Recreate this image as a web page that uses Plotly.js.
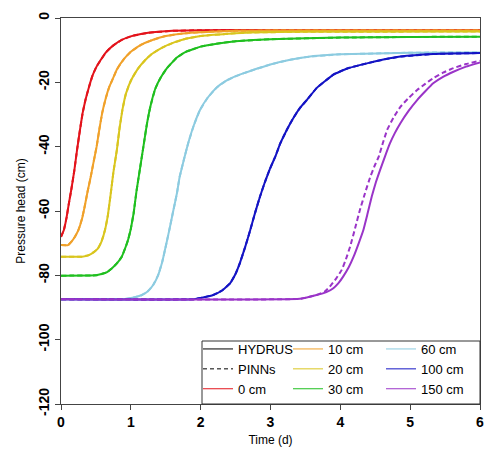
<!DOCTYPE html>
<html>
<head>
<meta charset="utf-8">
<script src="https://cdn.plot.ly/plotly-3.0.1.min.js"></script>
<style>html,body{margin:0;padding:0;background:#fff;}#chart{width:485px;height:452px;}</style>
</head>
<body>
<div id="chart"></div>
<script>
// ---- data ----
const depths = ["0 cm", "10 cm", "20 cm", "30 cm", "60 cm", "100 cm", "150 cm"];
const colors = ["#e3131b", "#f0a12a", "#d9c51e", "#1fbf1f", "#8ccbe0", "#1414c4", "#9a34c8"];

const t_0cm = [0, 0.04, 0.08, 0.11, 0.15, 0.19, 0.23, 0.27, 0.31, 0.35, 0.40, 0.45, 0.50, 0.57, 0.65, 0.75, 0.87, 1.0, 1.25, 1.6, 2, 3, 4, 5, 6];
const h_0cm = [-68, -66, -62, -58, -53, -47.5, -41, -35, -29.5, -25.5, -21.5, -18, -15.5, -13, -10.5, -8.5, -6.8, -5.7, -4.6, -4.0, -3.8, -3.7, -3.7, -3.7, -3.7];

const t_10cm = [0, 0.1, 0.15, 0.2, 0.25, 0.3, 0.34, 0.38, 0.42, 0.46, 0.51, 0.55, 0.59, 0.64, 0.69, 0.74, 0.8, 0.9, 1.0, 1.15, 1.3, 1.5, 1.75, 2, 2.5, 3, 4, 6];
const h_10cm = [-70.6, -70.6, -69.5, -68, -65.9, -62.5, -58.5, -54, -50, -45.5, -40, -34.5, -29.5, -25, -21.5, -19, -16, -12.8, -10.5, -8.3, -6.9, -5.6, -4.8, -4.4, -4.0, -3.9, -3.9, -3.9];

const t_20cm = [0, 0.3, 0.4, 0.47, 0.53, 0.58, 0.63, 0.67, 0.71, 0.75, 0.8, 0.84, 0.88, 0.93, 1.0, 1.1, 1.2, 1.3, 1.45, 1.63, 1.8, 2.0, 2.4, 2.7, 3.5, 6];
const h_20cm = [-74.2, -74.2, -73.7, -72.8, -71.6, -69.5, -65.9, -61.5, -55, -48, -41, -34, -28.5, -23.5, -19.5, -15.8, -13.2, -11.2, -9.2, -7.5, -6.4, -5.6, -4.9, -4.5, -4.3, -4.2];

const t_30cm = [0, 0.5, 0.58, 0.66, 0.73, 0.8, 0.87, 0.92, 0.96, 1.0, 1.04, 1.08, 1.13, 1.18, 1.23, 1.28, 1.35, 1.42, 1.52, 1.66, 1.8, 2.0, 2.25, 2.5, 3, 4, 5, 6];
const h_30cm = [-80.1, -80, -79.6, -79, -77.8, -76.3, -74.2, -71.5, -69, -65.5, -60.7, -54, -47, -40, -33, -27.5, -22, -18.8, -15.5, -12.3, -10.4, -8.9, -7.9, -7.2, -6.6, -6.1, -5.9, -5.8];

const t_60cm = [0, 0.9, 1.04, 1.15, 1.24, 1.32, 1.39, 1.45, 1.51, 1.56, 1.61, 1.66, 1.70, 1.76, 1.82, 1.9, 1.99, 2.1, 2.23, 2.35, 2.47, 2.6, 2.8, 3.04, 3.3, 3.52, 4.0, 5, 6];
const h_60cm = [-87.4, -87.4, -86.9, -86.2, -85.0, -83.0, -80.0, -75.8, -70, -65, -59.7, -54.5, -49.3, -44, -39, -33.5, -28.6, -24.8, -21.6, -19.7, -18.4, -17.3, -15.8, -14.2, -12.9, -12.1, -11.3, -10.8, -10.7];

const t_100cm = [0, 1.9, 2.05, 2.18, 2.3, 2.42, 2.5, 2.56, 2.64, 2.71, 2.78, 2.85, 2.92, 2.99, 3.07, 3.14, 3.24, 3.33, 3.42, 3.52, 3.66, 3.8, 3.9, 4.1, 4.38, 4.6, 4.86, 5.33, 6];
const h_100cm = [-87.4, -87.4, -86.8, -86.1, -84.8, -82.5, -79.5, -76.3, -71, -65.9, -60.5, -55.5, -51, -47, -43, -39, -34.5, -31, -28, -25.5, -21.8, -19.3, -17.6, -15.7, -14.1, -13, -12, -11.2, -10.9];

const t_150cm = [0, 3.42, 3.66, 3.8, 3.9, 3.97, 4.04, 4.12, 4.19, 4.26, 4.33, 4.39, 4.45, 4.51, 4.57, 4.64, 4.71, 4.78, 4.86, 4.98, 5.10, 5.22, 5.33, 5.47, 5.62, 5.8, 6];
const h_150cm = [-87.4, -87.3, -86.1, -85.2, -84, -82.5, -80.4, -77.5, -74.2, -70.2, -65.9, -60.8, -55.5, -51, -47.2, -43, -39, -35.8, -32.7, -28.8, -25.5, -22.7, -20.3, -18.3, -16.7, -15.1, -13.8];

// PINNs predictions (coincide with HYDRUS except at 150 cm)
const tp_150cm = [0, 3.42, 3.66, 3.78, 3.85, 3.94, 4.02, 4.08, 4.14, 4.21, 4.28, 4.36, 4.43, 4.49, 4.55, 4.61, 4.67, 4.76, 4.86, 4.98, 5.10, 5.22, 5.33, 5.47, 5.62, 5.8, 6];
const hp_150cm = [-87.4, -87.3, -86.1, -85, -83.5, -81, -78.3, -75, -71.1, -65.5, -59.7, -54, -49.3, -46, -43.1, -38.8, -34.8, -31, -27.6, -24.8, -22.4, -20.4, -18.7, -17, -15.6, -14.3, -13.3];

const hydrusT = [t_0cm, t_10cm, t_20cm, t_30cm, t_60cm, t_100cm, t_150cm];
const hydrusH = [h_0cm, h_10cm, h_20cm, h_30cm, h_60cm, h_100cm, h_150cm];
const pinnsT = [t_0cm, t_10cm, t_20cm, t_30cm, t_60cm, t_100cm, tp_150cm];
const pinnsH = [h_0cm, h_10cm, h_20cm, h_30cm, h_60cm, h_100cm, hp_150cm];

const xTicks = [0, 1, 2, 3, 4, 5, 6];
const yTicks = [0, -20, -40, -60, -80, -100, -120];

// legend columns
const legendCols = [["HYDRUS", "PINNs", "0 cm"], ["10 cm", "20 cm", "30 cm"], ["60 cm", "100 cm", "150 cm"]];
const legendIds = ["legend", "legend2", "legend3"];

const traces = [];
for (let i = 0; i < depths.length; i++) {
  traces.push({x: hydrusT[i], y: hydrusH[i], mode: "lines", name: depths[i] + " HYDRUS", showlegend: false,
    line: {color: colors[i], width: 2, shape: "spline", smoothing: 0.3}, hoverinfo: "skip"});
  traces.push({x: pinnsT[i], y: pinnsH[i], mode: "lines", name: depths[i] + " PINNs", showlegend: false,
    line: {color: colors[i], width: 2, dash: "5px,3px", shape: "spline", smoothing: 0.3}, hoverinfo: "skip"});
}
// legend-only entries
legendCols.forEach((col, c) => {
  col.forEach((name) => {
    let color = "#000", dash = "solid";
    const di = depths.indexOf(name);
    if (di >= 0) color = colors[di];
    if (name === "PINNs") dash = "4px,3px";
    traces.push({x: [null], y: [null], mode: "lines", name: name, legend: legendIds[c],
      line: {color: color, width: 1, dash: dash}, showlegend: true, hoverinfo: "skip"});
  });
});

const fontFam = "Liberation Sans, Arial, sans-serif";
const pw = 419, ph = 386;
function px2x(px) { return (px - 61) / pw; }
function py2y(py) { return (404 - py) / ph; }

const legendBase = {
  orientation: "v", y: 0, yanchor: "bottom", xanchor: "left",
  bgcolor: "rgba(0,0,0,0)", borderwidth: 0,
  font: {family: fontFam, size: 13, color: "#000"},
  itemwidth: 30, tracegroupgap: 0
};

const layout = {
  width: 485, height: 452,
  margin: {l: 61, r: 5, t: 18, b: 48},
  paper_bgcolor: "#fff", plot_bgcolor: "#fff",
  font: {family: fontFam, color: "#000", size: 12},
  showlegend: true,
  xaxis: {
    range: [0, 6], tickvals: xTicks, ticktext: xTicks.map(String),
    showgrid: false, zeroline: false, showline: true, mirror: true, linecolor: "#444", linewidth: 1,
    ticks: "outside", ticklen: 5, tickcolor: "#444",
    tickfont: {family: fontFam, size: 14, weight: "bold", color: "#000"},
    title: {text: "Time (d)", font: {family: fontFam, size: 12, color: "#000"}, standoff: 6}
  },
  yaxis: {
    range: [-120, 0], tickvals: yTicks, ticktext: yTicks.map(String),
    showgrid: false, zeroline: false, showline: true, mirror: true, linecolor: "#444", linewidth: 1,
    ticks: "outside", ticklen: 5, tickcolor: "#444", tickangle: -90,
    tickfont: {family: fontFam, size: 14, weight: "bold", color: "#000"},
    title: {text: "Pressure head (cm)", font: {family: fontFam, size: 12, color: "#000"}, standoff: 8}
  },
  legend: Object.assign({}, legendBase, {x: px2x(198)}),
  legend2: Object.assign({}, legendBase, {x: px2x(288)}),
  legend3: Object.assign({}, legendBase, {x: px2x(381)}),
  shapes: [{
    type: "rect", xref: "paper", yref: "paper",
    x0: px2x(202), x1: 1, y0: 0, y1: py2y(341),
    line: {color: "#333", width: 1}, fillcolor: "rgba(0,0,0,0)", layer: "above"
  }]
};

Plotly.newPlot("chart", traces, layout, {staticPlot: true, displayModeBar: false});
</script>
</body>
</html>
